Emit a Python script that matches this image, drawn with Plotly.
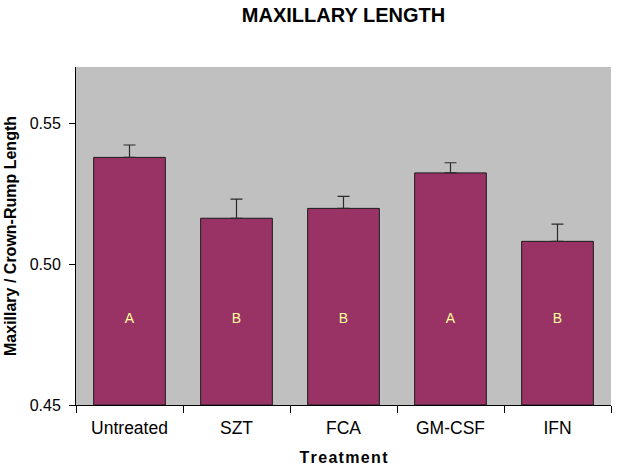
import plotly.graph_objects as go

categories = ["Untreated", "SZT", "FCA", "GM-CSF", "IFN"]
means = [0.5379, 0.5163, 0.5198, 0.5324, 0.5081]
errors = [0.0044, 0.0068, 0.0043, 0.0036, 0.0061]
groups = ["A", "B", "B", "A", "B"]
label_y = [0.4805] * 5

FONT = "Liberation Sans, Arial, Helvetica"

fig = go.Figure()
fig.add_trace(go.Bar(
    x=categories, y=[m - 0.45 for m in means], base=0.45,
    marker=dict(color="#993366", line=dict(color="#1a1a1a", width=1)),
    error_y=dict(type="data", symmetric=False, array=errors,
                 arrayminus=[0] * 5, color="#2a2a2a", thickness=1.2, width=6),
    hoverinfo="skip",
))
fig.add_trace(go.Scatter(
    x=categories, y=label_y, mode="text", text=groups,
    textfont=dict(family=FONT, size=14, color="#FFFF99"),
    hoverinfo="skip",
))
fig.update_layout(
    width=618, height=469,
    margin=dict(l=76, r=7, t=67, b=64),
    paper_bgcolor="white", plot_bgcolor="#C0C0C0",
    showlegend=False, bargap=0.33,
    font=dict(family=FONT, size=17, color="black"),
    title=dict(text="<b>MAXILLARY LENGTH</b>", x=0.5, xref="paper",
               xanchor="center", y=0.968, yanchor="middle",
               font=dict(size=20, family=FONT)),
)
fig.update_xaxes(
    type="category", tickson="boundaries", ticks="outside", ticklen=7,
    tickcolor="black", showline=True, linecolor="black", linewidth=1,
    showgrid=False, tickfont=dict(size=17.5), automargin=False,
    ticklabelstandoff=7,
    title=dict(text="<b>T r e a t m e n t</b>".replace(" ", "\u200a"),
               font=dict(size=16), standoff=14),
)
fig.update_yaxes(
    range=[0.45, 0.570], tickvals=[0.45, 0.50, 0.55],
    ticktext=["0.45", "0.50", "0.55"], ticks="outside", ticklen=6,
    tickcolor="black", showline=True, linecolor="black", linewidth=1,
    showgrid=False, zeroline=False, tickfont=dict(size=16), automargin=False,
    ticklabelstandoff=5,
    title=dict(text="<b>Maxillary / Crown-Rump Length</b>", font=dict(size=16), standoff=9),
)
fig.write_html("out.html", post_script="document.body.style.margin='0';",
               config={"displayModeBar": False})
